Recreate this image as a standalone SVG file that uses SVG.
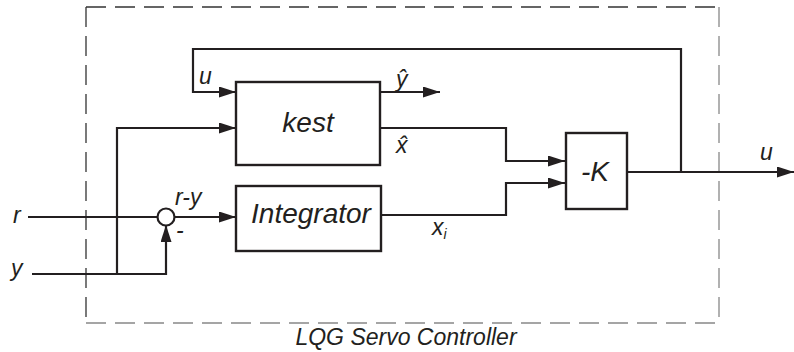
<svg xmlns="http://www.w3.org/2000/svg" width="794" height="352" viewBox="0 0 794 352">
<style>
.ln{fill:none;stroke:#231f20;stroke-width:2.2}
.bx{fill:#fff;stroke:#231f20;stroke-width:2.4}
.t{font-family:"Liberation Sans",Arial,sans-serif;font-style:italic;fill:#231f20}
.big{font-size:28px}
.lab{font-size:23px}
</style>
<defs>
<marker id="ah" markerWidth="18" markerHeight="11" refX="17" refY="5.5" orient="auto" markerUnits="userSpaceOnUse">
<path d="M0,0 L17,5.5 L0,11 Z" fill="#231f20"/>
</marker>
</defs>
<g id="frame">
<path d="M86,7 H719" fill="none" stroke="#333" stroke-width="1.3" stroke-dasharray="20,9"/>
<path d="M86,7 V323" fill="none" stroke="#333" stroke-width="1.3" stroke-dasharray="20,9"/>
<path d="M719,7 V323" fill="none" stroke="#888" stroke-width="1.3" stroke-dasharray="20,9"/>
<path d="M86,323 H719" fill="none" stroke="#888" stroke-width="1.3" stroke-dasharray="20,9"/>
<text class="t lab" x="406" y="345" text-anchor="middle">LQG Servo Controller</text>
</g>
<g id="connectors">
<path class="ln" d="M681,172 V49 H193 V92 H236" marker-end="url(#ah)"/>
<path class="ln" d="M380,92 H440" marker-end="url(#ah)"/>
<path class="ln" d="M380,128 H506 V161 H565" marker-end="url(#ah)"/>
<path class="ln" d="M381,215 H506 V183 H565" marker-end="url(#ah)"/>
<path class="ln" d="M627,172 H794" marker-end="url(#ah)"/>
<path class="ln" d="M28,217 H157.5"/>
<path class="ln" d="M174.5,217 H236" marker-end="url(#ah)"/>
<path class="ln" d="M32,274 H166 V225" marker-end="url(#ah)"/>
<path class="ln" d="M117,274 V128 H236" marker-end="url(#ah)"/>
</g>
<g id="kest">
<rect class="bx" x="236" y="82" width="144" height="83"/>
<text class="t big" x="308" y="132" text-anchor="middle">kest</text>
</g>
<g id="integrator">
<rect class="bx" x="236" y="186" width="145" height="65"/>
<text class="t big" x="311" y="223" text-anchor="middle">Integrator</text>
</g>
<g id="gainK">
<rect class="bx" x="566" y="133" width="61" height="76"/>
<text class="t big" x="595" y="181" text-anchor="middle">-K</text>
</g>
<g id="sum">
<circle cx="166" cy="217" r="8.5" fill="#fff" stroke="#231f20" stroke-width="2.2"/>
<text class="t lab" x="175" y="205">r-y</text>
<text class="t lab" x="176" y="238">-</text>
</g>
<g id="labels">
<text class="t lab" x="13" y="223">r</text>
<text class="t lab" x="11" y="276">y</text>
<text class="t lab" x="199" y="84">u</text>
<text class="t lab" x="760" y="160">u</text>
<text class="t lab" x="396" y="87">ŷ</text>
<text class="t lab" x="396" y="153">x̂</text>
<text class="t lab" x="432" y="235">x<tspan font-size="14" dy="4">i</tspan></text>
</g>
</svg>
